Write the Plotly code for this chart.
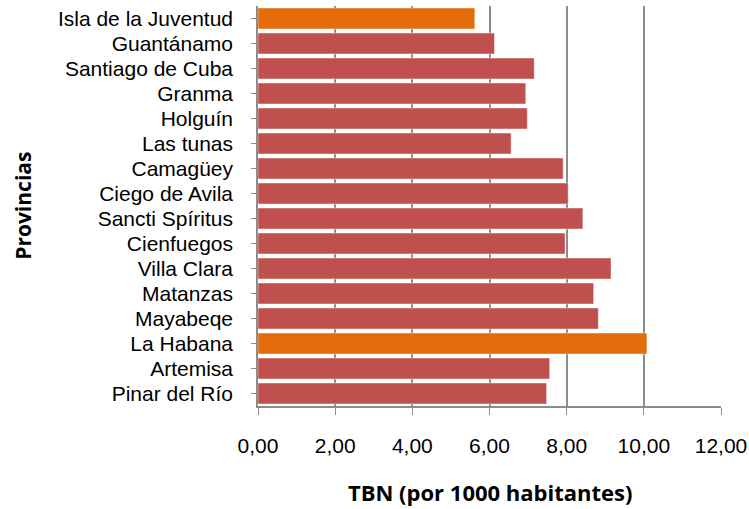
import plotly.graph_objects as go

provincias = [
    "Pinar del Río", "Artemisa", "La Habana", "Mayabeqe", "Matanzas",
    "Villa Clara", "Cienfuegos", "Sancti Spíritus", "Ciego de Avila",
    "Camagüey", "Las tunas", "Holguín", "Granma", "Santiago de Cuba",
    "Guantánamo", "Isla de la Juventud",
]
tbn = [7.48, 7.56, 10.08, 8.82, 8.70, 9.15, 7.96, 8.42, 8.04,
       7.91, 6.56, 6.98, 6.94, 7.16, 6.13, 5.62]
destacadas = ["La Habana", "Isla de la Juventud"]

colores = ["#E46C0A" if p in destacadas else "#C0504D" for p in provincias]

fig = go.Figure()
fig.add_bar(
    y=provincias,
    x=tbn,
    orientation="h",
    marker={"color": colores, "line": {"color": "rgba(255,255,255,0.45)", "width": 1}},
)

fig.update_layout(
    width=749,
    height=509,
    margin={"l": 258, "r": 28, "t": 6, "b": 103},
    paper_bgcolor="white",
    plot_bgcolor="white",
    font={"family": "Liberation Sans, Arial", "size": 21, "color": "#000000"},
    separators=",.",
    bargap=0.16,
    showlegend=False,
    xaxis={
        "range": [0, 12],
        "dtick": 2,
        "tickformat": ".2f",
        "automargin": False,
        "showgrid": True,
        "gridcolor": "#8c8c8c",
        "gridwidth": 1.5,
        "zeroline": False,
        "showline": True,
        "linecolor": "#8c8c8c",
        "linewidth": 1.5,
        "ticks": "outside",
        "ticklen": 7,
        "tickcolor": "#8c8c8c",
        "ticklabelstandoff": 13,
    },
    yaxis={
        "automargin": False,
        "showline": True,
        "linecolor": "#8c8c8c",
        "linewidth": 1.5,
        "ticks": "outside",
        "ticklen": 5,
        "tickcolor": "#8c8c8c",
        "ticklabelstandoff": 14,
        "showgrid": False,
    },
    annotations=[
        {
            "text": "<b>TBN (por 1000 habitantes)</b>",
            "xref": "paper", "yref": "paper",
            "x": 0.5, "y": -0.215,
            "xanchor": "center", "yanchor": "middle",
            "showarrow": False,
            "font": {"family": "Open Sans", "size": 22},
        },
        {
            "text": "<b>Provincias</b>",
            "xref": "paper", "yref": "paper",
            "x": -0.508, "y": 0.5,
            "xanchor": "center", "yanchor": "middle",
            "textangle": -90,
            "showarrow": False,
            "font": {"family": "Open Sans", "size": 21},
        },
    ],
)

# quitar el margen por defecto del body para que la figura empiece en (0, 0)
fig.write_html(
    "out.html",
    config={"displayModeBar": False},
    post_script="document.body.style.margin='0';",
)
